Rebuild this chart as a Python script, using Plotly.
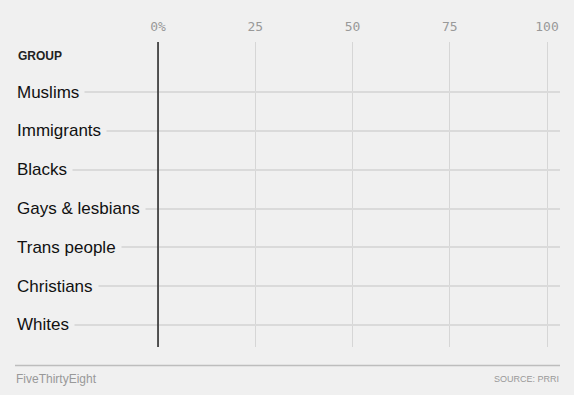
import plotly.graph_objects as go

groups = ["Muslims", "Immigrants", "Blacks", "Gays & lesbians", "Trans people", "Christians", "Whites"]
values = [0, 0, 0, 0, 0, 0, 0]
tick_vals = [0, 25, 50, 75, 100]
tick_text = ["0%", "25", "50", "75", "100"]

BG = "#f0f0f0"
W, H = 574, 395
L, R, T, B = 17, 14, 42, 48
PW, PH = W - L - R, H - T - B

fig = go.Figure()
fig.add_trace(go.Bar(x=values, y=groups, orientation="h", marker_color="#ed713a",
                     marker_line_width=0, width=0.6, hoverinfo="skip"))

for g in groups:
    fig.add_annotation(x=0, xref="paper", y=g, yref="y", text=g, showarrow=False,
                       xanchor="left", yanchor="middle", align="left", xshift=-6,
                       font=dict(family="Liberation Sans, Arial", size=17, color="#111"),
                       bgcolor=BG, borderpad=5)

fig.add_annotation(x=0, xref="paper", y=(H - B - 56) / PH, yref="paper", xshift=-1,
                   text="<b>GROUP</b>", showarrow=False, xanchor="left", yanchor="middle",
                   font=dict(family="Liberation Sans, Arial", size=12, color="#222"))

# zero line on top of row lines
fig.add_shape(type="line", xref="x", yref="paper", x0=0, x1=0, y0=0, y1=1,
              line=dict(color="#222", width=1.5), layer="above")

# footer
fy = -(365.5 - (H - B)) / PH
fig.add_shape(type="line", xref="paper", yref="paper",
              x0=(15 - L) / PW, x1=(560 - L) / PW, y0=fy, y1=fy,
              line=dict(color="#bdbdbd", width=1.5))
fig.add_annotation(x=(15 - L) / PW, xref="paper", xshift=-1,
                   y=-(379 - (H - B)) / PH, yref="paper",
                   text="FiveThirtyEight", showarrow=False, xanchor="left", yanchor="middle",
                   font=dict(family="Liberation Sans", size=12, color="#999"))
fig.add_annotation(x=(560 - L) / PW, xref="paper", xshift=1,
                   y=-(379 - (H - B)) / PH, yref="paper",
                   text="SOURCE: PRRI", showarrow=False, xanchor="right", yanchor="middle",
                   font=dict(family="Liberation Sans", size=9, color="#999"))

fig.update_layout(
    width=W, height=H, paper_bgcolor=BG, plot_bgcolor=BG,
    margin=dict(l=L, r=R, t=T, b=B), showlegend=False,
    xaxis=dict(range=[-36.25, 103.34], side="top", tickvals=tick_vals, ticktext=tick_text,
               showgrid=True, gridcolor="#d6d6d6", gridwidth=1,
               zeroline=False,
               tickfont=dict(family="DejaVu Sans Mono", size=13, color="#999"),
               ticks="", ticklabelstandoff=7, showline=False, fixedrange=True),
    yaxis=dict(categoryorder="array", categoryarray=groups,
               range=[6.567, -1.288], showticklabels=False, ticks="",
               showgrid=True, gridcolor="#dadada", gridwidth=1.5,
               zeroline=False, showline=False, fixedrange=True),
)

fig.write_html("out.html")
